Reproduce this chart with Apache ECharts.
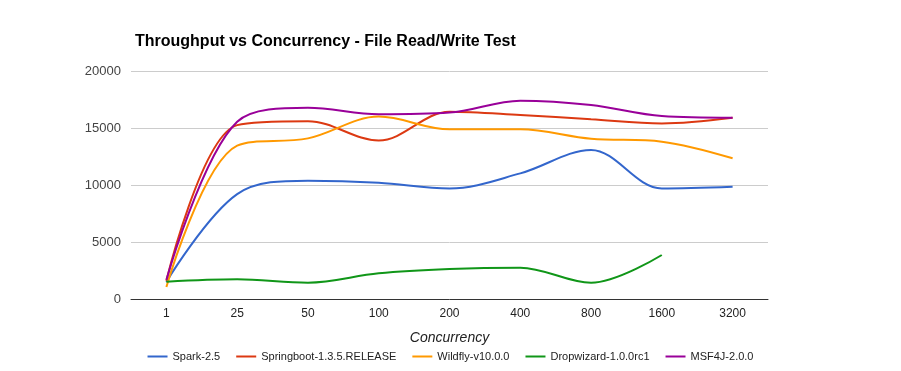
<!DOCTYPE html>
<html><head><meta charset="utf-8">
<script src="https://cdn.jsdelivr.net/npm/echarts@6/dist/echarts.min.js"></script>
<style>html,body{margin:0;padding:0;background:#fff}#c{width:901px;height:371px}</style>
</head><body><div id="c"></div>
<script>
const categories = ['1','25','50','100','200','400','800','1600','3200'];
const spark = [1500, 9200, 10380, 10200, 9700, 11020, 13070, 9700, 9850];
const springboot = [1600, 15250, 15600, 13900, 16430, 16140, 15760, 15400, 15900];
const wildfly = [1050, 13450, 14090, 16000, 14880, 14880, 14060, 13800, 12340];
const dropwizard = [1520, 1730, 1430, 2250, 2630, 2750, 1430, 3860, null];
const msf4j = [1680, 15550, 16780, 16200, 16350, 17400, 17020, 16050, 15900];
const seriesNames = ['Spark-2.5','Springboot-1.3.5.RELEASE','Wildfly-v10.0.0','Dropwizard-1.0.0rc1','MSF4J-2.0.0'];
const colors = ['#3366cc','#dc3912','#ff9900','#109618','#990099'];
const yTicks = [0, 5000, 10000, 15000, 20000];

const data = [spark, springboot, wildfly, dropwizard, msf4j];
const chart = echarts.init(document.getElementById('c'));
chart.setOption({
  animation: false,
  color: colors,
  title: {
    text: 'Throughput vs Concurrency - File Read/Write Test',
    left: 130, top: 29,
    textStyle: {fontFamily: 'Liberation Sans, Arial', fontSize: 16, fontWeight: 'bold', color: '#000'}
  },
  grid: {left: 131, right: 133, top: 71, bottom: 72},
  legend: {
    bottom: 4, left: 'center',
    icon: 'rect', itemWidth: 20, itemHeight: 2, itemGap: 16,
    textStyle: {fontFamily: 'Liberation Sans, Arial', fontSize: 11, color: '#222'},
    data: seriesNames
  },
  xAxis: {
    type: 'category', data: categories, boundaryGap: true,
    name: 'Concurrency', nameLocation: 'middle', nameGap: 32,
    nameTextStyle: {fontFamily: 'Liberation Sans, Arial', fontSize: 14, fontStyle: 'italic', color: '#222'},
    axisLine: {lineStyle: {color: '#333', width: 1}},
    axisTick: {show: false},
    axisLabel: {fontFamily: 'Liberation Sans, Arial', fontSize: 12, color: '#222', margin: 9}
  },
  yAxis: {
    type: 'value', min: yTicks[0], max: yTicks[yTicks.length-1], interval: 5000,
    axisLine: {show: false}, axisTick: {show: false},
    splitLine: {lineStyle: {color: '#cccccc'}},
    axisLabel: {fontFamily: 'Liberation Sans, Arial', fontSize: 13, color: '#444', margin: 10,
      formatter: v => String(v)}
  },
  series: seriesNames.map((n, i) => ({
    name: n, type: 'line', data: data[i], smooth: 0.35,
    showSymbol: false, symbol: 'none',
    lineStyle: {width: 2, color: colors[i]},
    itemStyle: {color: colors[i]}
  }))
});
</script></body></html>
